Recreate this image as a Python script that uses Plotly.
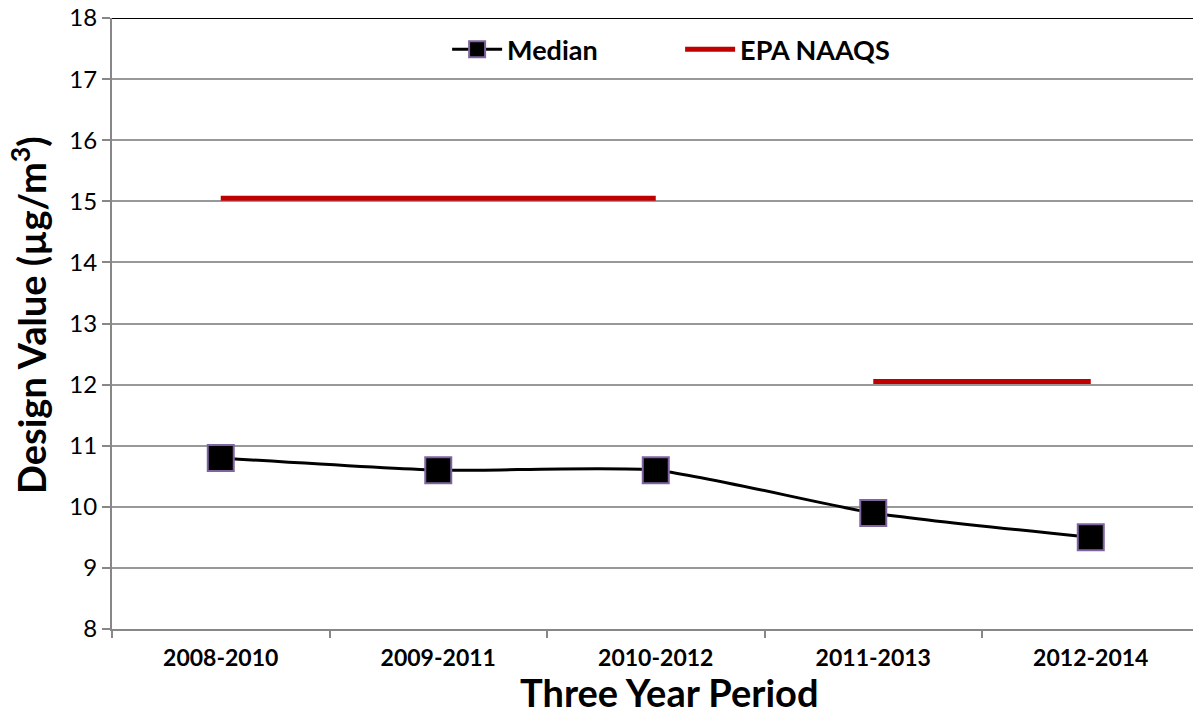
import plotly.graph_objects as go

# Three-year design value periods
periods = ["2008-2010", "2009-2011", "2010-2012", "2011-2013", "2012-2014"]
# Median PM2.5 design value (µg/m³)
median_values = [10.8, 10.6, 10.6, 9.9, 9.5]
# EPA annual NAAQS level in force for each period (None breaks the line)
naaqs_values = [15.05, 15.05, 15.05, None, None]
naaqs_values_new = [None, None, None, 12.05, 12.05]

y_ticks = list(range(8, 19))

FONT = "Lato"
GRID = "#989898"
AXIS = "#878787"

fig = go.Figure()

fig.add_trace(go.Scatter(
    x=periods, y=median_values, name="Median",
    mode="lines+markers",
    line=dict(color="black", width=3, shape="spline", smoothing=0.6),
    marker=dict(symbol="square", size=26, color="black",
                line=dict(color="#8064A2", width=2)),
))
fig.add_trace(go.Scatter(
    x=periods, y=naaqs_values, name="EPA NAAQS",
    mode="lines", line=dict(color="#C00000", width=5),
    connectgaps=False,
))
fig.add_trace(go.Scatter(
    x=periods, y=naaqs_values_new, name="EPA NAAQS",
    mode="lines", line=dict(color="#C00000", width=5),
    connectgaps=False, showlegend=False,
))

# dark border along the top of the plotting area
fig.add_shape(type="line", xref="paper", yref="y", x0=0, x1=1, y0=18, y1=18,
              line=dict(color="black", width=2))

# axis titles
fig.add_annotation(text="Three Year Period", xref="paper", yref="paper",
                   x=0.5157, y=-0.1440, xanchor="center", yanchor="bottom",
                   showarrow=False,
                   font=dict(family=FONT, size=38, color="black", weight="bold"))
fig.add_annotation(text="Design Value (µg/m<sup>3</sup>)", xref="paper", yref="paper",
                   x=-0.0768, y=0.514, xanchor="center", yanchor="middle",
                   textangle=-90, showarrow=False,
                   font=dict(family=FONT, size=38, color="black", weight="bold"))

fig.update_layout(
    width=1193, height=717,
    margin=dict(l=112, r=0, t=18, b=88),
    paper_bgcolor="white", plot_bgcolor="white",
    font=dict(family=FONT, color="black"),
    showlegend=True,
    legend=dict(
        orientation="h", x=0.31, y=0.948, xanchor="left", yanchor="middle",
        font=dict(family=FONT, size=27, color="black", weight="bold"),
        itemwidth=50, entrywidth=168, bgcolor="rgba(0,0,0,0)",
    ),
    xaxis=dict(
        type="category", range=[-0.5, 4.47],
        tickson="boundaries", ticks="outside", ticklen=7, tickcolor=AXIS, tickwidth=2,
        ticklabelstandoff=7,
        showgrid=False, showline=True, linecolor=AXIS, linewidth=2,
        tickfont=dict(family=FONT, size=23, color="black", weight="bold"),
    ),
    yaxis=dict(
        range=[8, 18], tickvals=y_ticks,
        ticks="outside", ticklen=8, tickcolor=AXIS, tickwidth=2,
        showgrid=True, gridcolor=GRID, gridwidth=2,
        showline=True, linecolor=AXIS, linewidth=2, zeroline=False,
        tickfont=dict(family=FONT, size=24, color="black"),
    ),
)

fig.write_html("out.html")
